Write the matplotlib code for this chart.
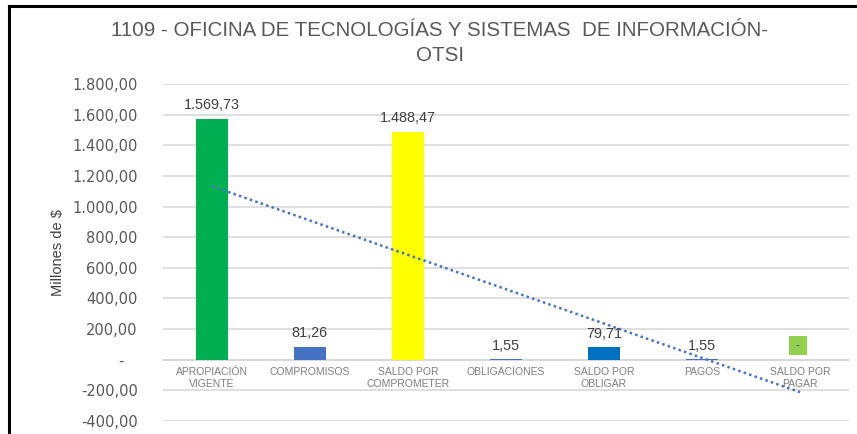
import matplotlib.pyplot as plt
import numpy as np
from matplotlib.lines import Line2D

categorias = ["APROPIACIÓN\nVIGENTE", "COMPROMISOS", "SALDO POR\nCOMPROMETER",
              "OBLIGACIONES", "SALDO POR\nOBLIGAR", "PAGOS", "SALDO POR\nPAGAR"]
valores = [1569.73, 81.26, 1488.47, 1.55, 79.71, 1.55, 0.0]
colores = ["#00B050", "#4472C4", "#FFFF00", "#4472C4", "#0070C0", "#4472C4", "#92D050"]
yticks = [-400, -200, 0, 200, 400, 600, 800, 1000, 1200, 1400, 1600, 1800]


def fmt_es(v):
    if v == 0:
        return "-"
    s = f"{abs(v):,.2f}".replace(",", "X").replace(".", ",").replace("X", ".")
    return ("-" if v < 0 else "") + s


fig = plt.figure(figsize=(8.57, 4.34), dpi=100)
ax = fig.add_axes([0.190, 0.030, 0.8007, 0.7765])

x = np.arange(len(valores))
ax.bar(x, valores, width=0.32, color=colores, zorder=2)

# data labels
for xi, v, c in zip(x, valores, colores):
    if v == 0:
        ax.text(xi - 0.02, 95, " - ", ha="center", va="center", fontsize=8, color="#404040",
                family="Liberation Sans",
                bbox=dict(boxstyle="square,pad=0.4", fc=c, ec="none"), zorder=4)
    else:
        ax.text(xi, v + 45, fmt_es(v), ha="center", va="bottom", fontsize=10.4,
                color="#404040", family="Liberation Sans", zorder=4)

# linear trend
coef = np.polyfit(x, valores, 1)
ax.plot(x, np.polyval(coef, x), linestyle=(0, (1, 1.3)), color="#4472C4",
        linewidth=1.8, zorder=3)

ax.set_xlim(-0.5, len(valores) - 0.5)
ax.set_ylim(-400, 1800)
ax.set_yticks(yticks)
ax.set_yticklabels([fmt_es(t) + ("   " if t == 0 else "") for t in yticks],
                   fontsize=10.5, color="#595959")
ax.set_xticks([])
for xi, lab in zip(x, categorias):
    ax.text(xi, -45, lab, ha="center", va="top", multialignment="center",
            fontsize=7.5, color="#7F7F7F", family="Liberation Sans", linespacing=1.3)

ax.tick_params(axis="y", length=0, pad=18)
ax.grid(axis="y", color="#D9D9D9", linewidth=1.2, zorder=0)
ax.axhline(0, color="#D0D0D0", linewidth=1.2, zorder=1)
for s in ax.spines.values():
    s.set_visible(False)

ax.set_ylabel("Millones de $", fontsize=10.5, color="#404040",
              family="Liberation Sans", labelpad=5)

fig.text(0.513, 0.93, "1109 - OFICINA DE TECNOLOGÍAS Y SISTEMAS  DE INFORMACIÓN-",
         ha="center", va="center", fontsize=14.8, color="#595959",
         family="Liberation Sans")
fig.text(0.513, 0.873, "OTSI", ha="center", va="center", fontsize=14.8,
         color="#595959", family="Liberation Sans")

# chart border (left and top edges)
fig.add_artist(Line2D([0.011, 0.011], [0, 0.986], transform=fig.transFigure,
                      color="black", linewidth=2.2))
fig.add_artist(Line2D([0.011, 1.0], [0.986, 0.986], transform=fig.transFigure,
                      color="black", linewidth=2.2))

fig.savefig("out.png", dpi=100)
